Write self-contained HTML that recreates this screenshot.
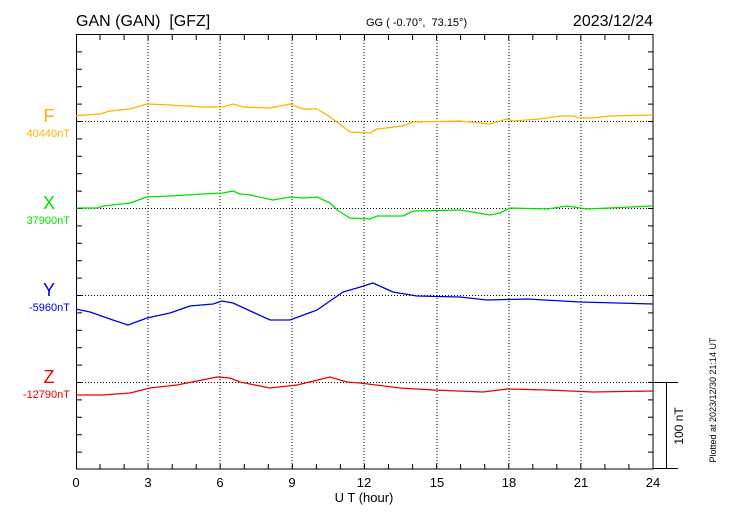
<!DOCTYPE html>
<html><head><meta charset="utf-8"><style>
html,body{margin:0;padding:0;background:#fff;}
svg{display:block;font-family:"Liberation Sans",sans-serif;}
</style></head><body>
<svg width="730" height="520" viewBox="0 0 730 520" xmlns="http://www.w3.org/2000/svg">
<rect width="730" height="520" fill="#fff"/>
<text x="76" y="26" font-size="16" fill="#000">GAN (GAN)&#160;&#160;[GFZ]</text>
<text x="366" y="26" font-size="11" fill="#000">GG ( -0.70°,&#160;&#160;73.15°)</text>
<text x="653" y="26" font-size="16" fill="#000" text-anchor="end">2023/12/24</text>
<g stroke="#000" stroke-width="1" stroke-dasharray="1,2">
<line x1="148" y1="34" x2="148" y2="469"/><line x1="220" y1="34" x2="220" y2="469"/>
<line x1="292" y1="34" x2="292" y2="469"/><line x1="364" y1="34" x2="364" y2="469"/>
<line x1="437" y1="34" x2="437" y2="469"/><line x1="509" y1="34" x2="509" y2="469"/>
<line x1="581" y1="34" x2="581" y2="469"/>
<line x1="76" y1="121.5" x2="653" y2="121.5"/><line x1="76" y1="208.5" x2="653" y2="208.5"/>
<line x1="76" y1="295.5" x2="653" y2="295.5"/><line x1="76" y1="382.5" x2="653" y2="382.5"/>
</g>
<g stroke="#000" stroke-width="1">
<rect x="76.5" y="34.5" width="576.5" height="434.5" fill="none"/>
<line x1="653" y1="382.5" x2="678" y2="382.5"/>
<line x1="653" y1="468.5" x2="678" y2="468.5"/>
<line x1="666.5" y1="382.5" x2="666.5" y2="468.5"/>
</g>
<g stroke="#000" stroke-width="1" id="ticks"></g>
<g fill="none" stroke-width="1.3" stroke-linejoin="round">
<polyline stroke="#ffb400" points="76,115.7 100,114 110,111 130,109 147,104 170,105 203,107 223,107 233,104 243,107 270,108 290,104 303,109 317,109 327,115 337,122 350,132 370,133 377,129 403,126 413,122 460,121 490,124 507,119 513,121 540,119 560,116 573,116 580,118 593,118 610,116 653,115"/>
<polyline stroke="#00e000" points="76,208 97,208 103,206 130,203 147,197 170,196 203,194 223,193 233,191 240,194 250,195 273,200 290,197 303,198 317,197 330,203 337,210 350,218 370,219 377,216 403,216 413,211 460,210 490,215 500,213 510,208 547,209 567,206 587,209 653,206"/>
<polyline stroke="#0000e0" points="76,309 90,312 110,319 128,325 147,318 170,313 190,306 213,304 222,301 233,303 270,320 290,320 317,310 343,292 357,288 373,283 393,292 417,296 460,297 487,300 527,299 580,302 653,304"/>
<polyline stroke="#ee0000" points="76,395 103,395 130,393 150,388 177,385 217,377 230,378 240,382 270,388 297,385 330,377 347,382 360,383 400,388 433,390 483,392 507,389 547,390 593,392 653,391"/>
</g>
<g font-size="18" text-anchor="middle">
<text x="49" y="122" fill="#ffb400">F</text>
<text x="49" y="209" fill="#00e000">X</text>
<text x="49" y="296" fill="#0000e0">Y</text>
<text x="49" y="383" fill="#ee0000">Z</text>
</g>
<g font-size="11" text-anchor="end">
<text x="70" y="137" fill="#ffb400">40440nT</text>
<text x="70" y="224" fill="#00e000">37900nT</text>
<text x="70" y="311" fill="#0000e0">-5960nT</text>
<text x="70" y="398" fill="#ee0000">-12790nT</text>
</g>
<g font-size="13" text-anchor="middle" fill="#000">
<text x="76" y="487">0</text><text x="148" y="487">3</text><text x="220" y="487">6</text>
<text x="292" y="487">9</text><text x="364" y="487">12</text><text x="437" y="487">15</text>
<text x="509" y="487">18</text><text x="581" y="487">21</text><text x="653" y="487">24</text>
<text x="364" y="502">U T (hour)</text>
</g>
<text transform="translate(683,426) rotate(-90)" font-size="12" text-anchor="middle">100 nT</text>
<text transform="translate(716,400) rotate(-90)" font-size="9" text-anchor="middle">Plotted at 2023/12/30 21:14 UT</text>
<script>
var g=document.getElementById('ticks'),s='';
for(var h=1;h<24;h++){var x=(76+h*24.04).toFixed(1);s+='M'+x+' 35v5M'+x+' 469v-5';}
for(var i=1;i<25;i++){var y=(34.5+i*17.4).toFixed(1);s+='M77 '+y+'h5M653 '+y+'h-5';}
var p=document.createElementNS('http://www.w3.org/2000/svg','path');p.setAttribute('d',s);g.appendChild(p);
</script>
</svg>
</body></html>
